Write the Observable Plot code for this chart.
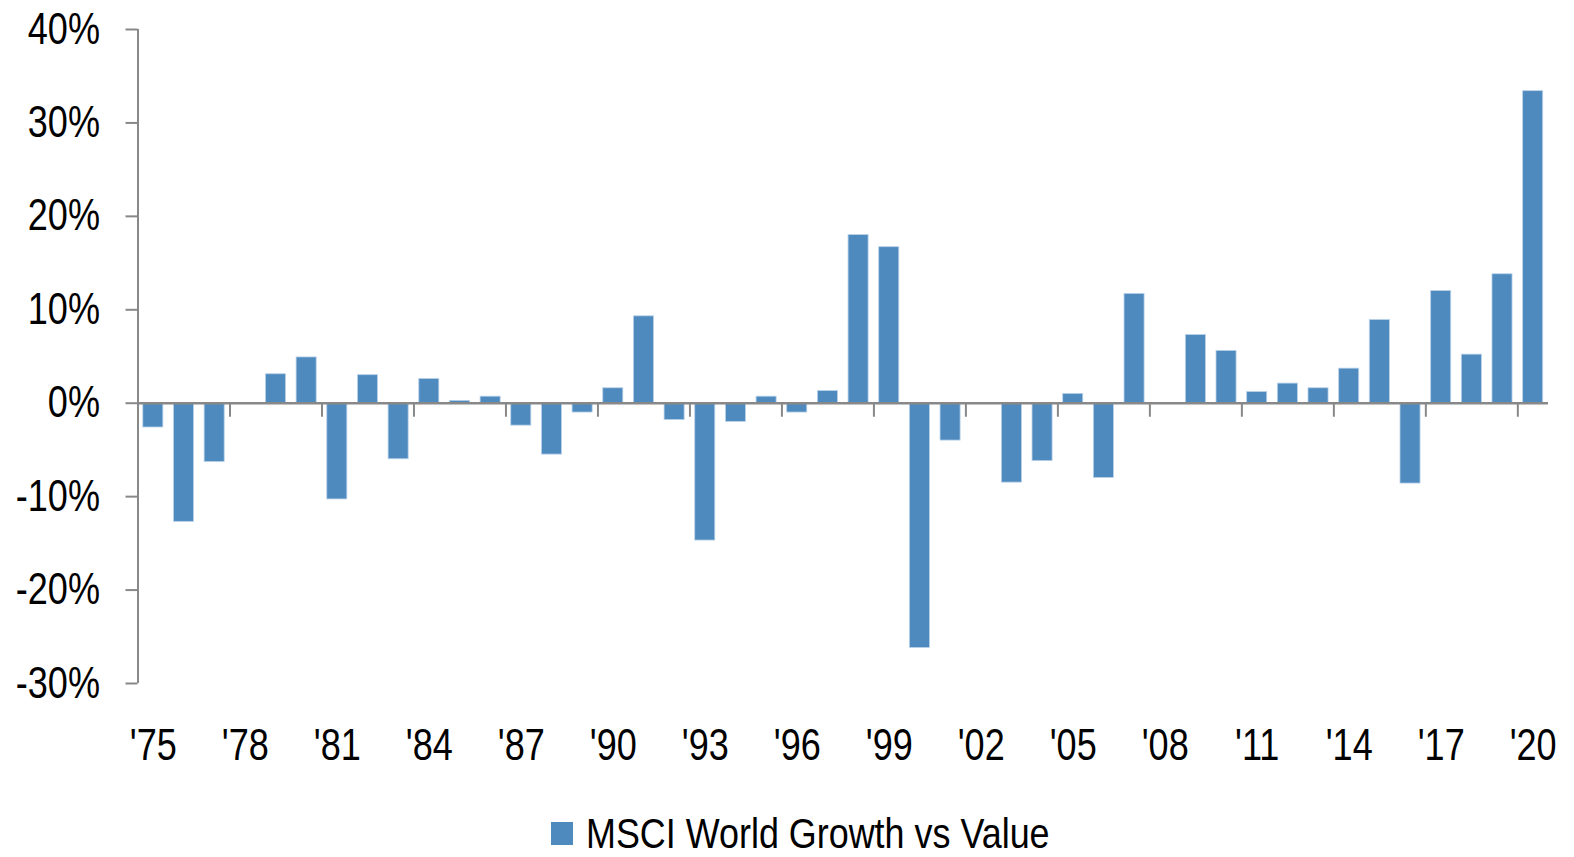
<!DOCTYPE html>
<html>
<head>
<meta charset="utf-8">
<script src="https://cdn.jsdelivr.net/npm/d3@7"></script>
<script src="https://cdn.jsdelivr.net/npm/@observablehq/plot@0.6"></script>
<style>
  html, body { margin: 0; padding: 0; background: #fff; }
  #wrap { position: relative; width: 1574px; height: 857px; overflow: hidden; }
  #legend { position: absolute; left: 551px; top: 812px; height: 43px; display: flex; align-items: center;
    font-family: 'Liberation Sans', Arial, sans-serif;
    font-size: 43px; line-height: 43px; color: #000; white-space: nowrap; }
  #legend .sw { width: 22px; height: 23px; background: #4f8abe; margin-right: 13px; flex: none; }
  #legend .lbl { display: inline-block; transform: scaleX(0.835); transform-origin: 0 50%; }
</style>
</head>
<body>
<div id="wrap">
  <div id="chart"></div>
  <div id="legend"><span class="sw"></span><span class="lbl">MSCI World Growth vs Value</span></div>
</div>
<script>
const years = [1975,1976,1977,1978,1979,1980,1981,1982,1983,1984,1985,1986,1987,1988,1989,1990,1991,1992,1993,1994,1995,1996,1997,1998,1999,2000,2001,2002,2003,2004,2005,2006,2007,2008,2009,2010,2011,2012,2013,2014,2015,2016,2017,2018,2019,2020];
const values = [-2.6,-12.7,-6.3,0,3.1,4.9,-10.3,3.0,-6.0,2.6,0.25,0.7,-2.4,-5.5,-1.0,1.6,9.3,-1.8,-14.7,-2.0,0.7,-1.0,1.3,18.0,16.7,-26.2,-4.0,0,-8.5,-6.2,1.0,-8.0,11.7,0,7.3,5.6,1.2,2.1,1.6,3.7,8.9,-8.6,12.0,5.2,13.8,33.4];
const xTickYears = [1975,1978,1981,1984,1987,1990,1993,1996,1999,2002,2005,2008,2011,2014,2017,2020];
const yTicks = [-30,-20,-10,0,10,20,30,40];
const seriesName = "MSCI World Growth vs Value";

const data = years.map((year, i) => ({year, value: values[i]}));
const boundaries = xTickYears.slice(1).map(y => y - 0.5);
const fontFamily = "'Liberation Sans', Arial, sans-serif";

const chart = Plot.plot({
  width: 1574,
  height: 790,
  marginTop: 29,
  marginBottom: 107,
  marginLeft: 137.5,
  marginRight: 26,
  style: {fontFamily, fontSize: "44px", color: "#000", background: "#fff"},
  x: {type: "linear", domain: [years[0] - 0.5, years[years.length - 1] + 0.5]},
  y: {domain: [yTicks[0], yTicks[yTicks.length - 1]]},
  marks: [
    Plot.rectY(data.filter(d => d.value !== 0), {
      x1: d => d.year - 0.5, x2: d => d.year + 0.5, y1: 0, y2: "value",
      insetLeft: 5.3, insetRight: 5.3,
      fill: "#4f8abe", stroke: "#b9d2ea", strokeWidth: 0.8
    }),
    Plot.ruleX([years[0] - 0.5], {y1: yTicks[0], y2: yTicks[yTicks.length - 1], stroke: "#888", strokeWidth: 2}),
    Plot.ruleY([0], {stroke: "#888", strokeWidth: 2.5}),
    Plot.ruleX(boundaries, {x: d => d, y1: 0, y2: -1.5, stroke: "#888", strokeWidth: 2}),
    Plot.axisY({ticks: yTicks, tickFormat: d => d + "%", tickSize: 12, tickPadding: 26,
      stroke: "#888", strokeWidth: 2, fill: "#000", fontSize: 44, label: null}),
    Plot.axisX({ticks: xTickYears, tickFormat: d => "'" + String(d).slice(2), tickSize: 0, tickPadding: 45,
      fill: "#000", fontSize: 44, label: null})
  ]
});
document.getElementById("chart").appendChild(chart);
// condense text horizontally (about its anchor) to match the narrow typeface of the original
chart.querySelectorAll("text").forEach(t => {
  const b = t.getBBox();
  const anchor = getComputedStyle(t).textAnchor;
  const ax = anchor === "end" ? b.x + b.width : anchor === "middle" ? b.x + b.width / 2 : b.x;
  const tr = t.getAttribute("transform") || "";
  t.setAttribute("transform", `${tr} translate(${ax},0) scale(0.82,1) translate(${-ax},0)`);
});
</script>
</body>
</html>
